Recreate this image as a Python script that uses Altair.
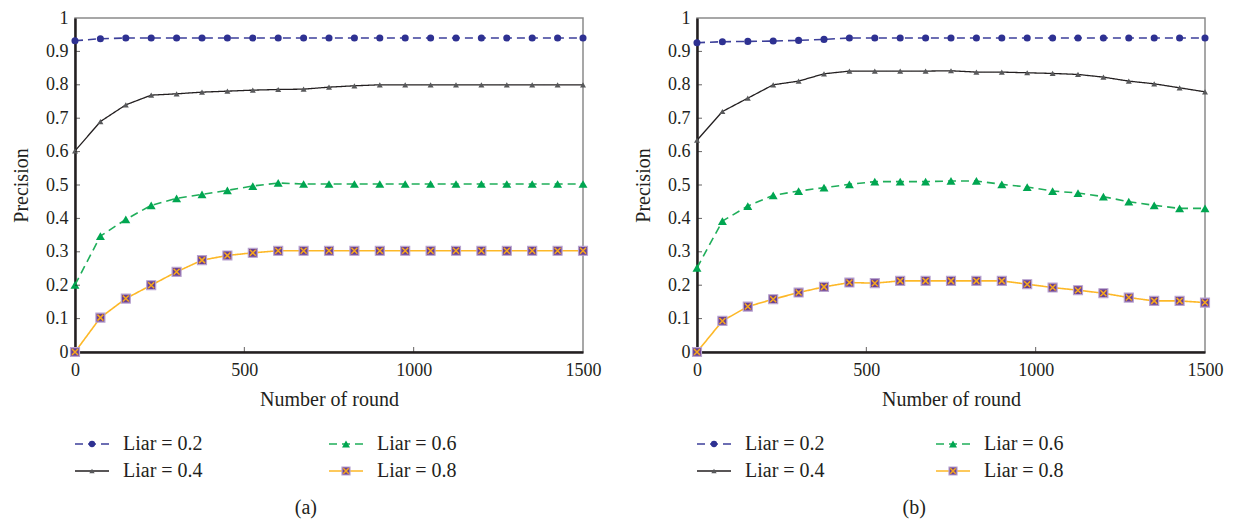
import altair as alt
import pandas as pd

FONT = "Liberation Serif"
INK = "#231f20"

rounds = [0, 75, 150, 225, 300, 375, 450, 525, 600, 675, 750,
          825, 900, 975, 1050, 1125, 1200, 1275, 1350, 1425, 1500]

series_names = ["Liar = 0.2", "Liar = 0.4", "Liar = 0.6", "Liar = 0.8"]

# Panel (a)
a_02 = [0.932, 0.938, 0.940, 0.940, 0.940, 0.940, 0.940, 0.940, 0.940, 0.940, 0.940,
        0.940, 0.940, 0.940, 0.940, 0.940, 0.940, 0.940, 0.940, 0.940, 0.940]
a_04 = [0.602, 0.690, 0.740, 0.769, 0.773, 0.778, 0.781, 0.784, 0.786, 0.787, 0.793,
        0.797, 0.800, 0.800, 0.800, 0.800, 0.800, 0.800, 0.800, 0.800, 0.800]
a_06 = [0.201, 0.347, 0.397, 0.439, 0.460, 0.472, 0.484, 0.497, 0.506, 0.503, 0.503,
        0.503, 0.503, 0.503, 0.503, 0.503, 0.503, 0.503, 0.503, 0.503, 0.503]
a_08 = [0.000, 0.103, 0.160, 0.200, 0.240, 0.275, 0.289, 0.297, 0.303, 0.303, 0.303,
        0.303, 0.303, 0.303, 0.303, 0.303, 0.303, 0.303, 0.303, 0.303, 0.303]

# Panel (b)
b_02 = [0.926, 0.929, 0.930, 0.931, 0.933, 0.936, 0.940, 0.940, 0.940, 0.940, 0.940,
        0.940, 0.940, 0.940, 0.940, 0.940, 0.940, 0.940, 0.940, 0.940, 0.940]
b_04 = [0.634, 0.720, 0.760, 0.800, 0.811, 0.833, 0.841, 0.841, 0.841, 0.841, 0.842,
        0.838, 0.838, 0.836, 0.834, 0.831, 0.823, 0.811, 0.803, 0.791, 0.779]
b_06 = [0.252, 0.392, 0.437, 0.469, 0.482, 0.492, 0.502, 0.510, 0.510, 0.510, 0.512,
        0.512, 0.502, 0.494, 0.482, 0.476, 0.465, 0.450, 0.439, 0.430, 0.430]
b_08 = [0.000, 0.093, 0.136, 0.158, 0.178, 0.195, 0.208, 0.206, 0.213, 0.213, 0.213,
        0.213, 0.213, 0.203, 0.193, 0.185, 0.176, 0.163, 0.153, 0.153, 0.148]

y_ticks = [0, 0.1, 0.2, 0.3, 0.4, 0.5, 0.6, 0.7, 0.8, 0.9, 1]
x_ticks = [0, 500, 1000, 1500]
y_inner_ticks = [0.1, 0.2, 0.3, 0.4, 0.5, 0.6, 0.7, 0.8, 0.9]
x_inner_ticks = [500, 1000]

legend_col = [0, 0, 1, 1]
legend_row = [1, 2, 1, 2]

# styles per series
STY = {
    "Liar = 0.2": dict(line="#3c3f9a", lw=1.6, dash=[8, 5], shape="circle", fill="#2e3192",
                       stroke="#2e3192", size=50, sw=0),
    "Liar = 0.4": dict(line="#231f20", lw=1.3, dash=[1, 0], shape="triangle-up", fill="#58595b",
                       stroke="#58595b", size=36, sw=0),
    "Liar = 0.6": dict(line="#1fae5a", lw=1.6, dash=[8, 5], shape="triangle-up", fill="#00a651",
                       stroke="#00a651", size=80, sw=0),
    "Liar = 0.8": dict(line="#fdb827", lw=1.6, dash=[1, 0], shape="square", fill="#6b3f92",
                       stroke="#b9a3cf", size=80, sw=1.2),
}
CROSS = "M-1,-1L1,1M1,-1L-1,1"

XS = alt.X("round:Q", scale=alt.Scale(domain=[0, 1500], nice=False),
           axis=alt.Axis(values=x_ticks, format="d", title="Number of round",
                         tickSize=0, labelPadding=9, titlePadding=10, labelFlush=False,
                         domainWidth=2.5, domainColor=INK, grid=False))
YS = alt.Y("precision:Q", scale=alt.Scale(domain=[0, 1], nice=False),
           axis=alt.Axis(values=y_ticks, format="~g", title="Precision",
                         tickSize=0, labelPadding=7, titlePadding=14, labelFlush=False,
                         domainWidth=2.5, domainColor=INK, grid=False))


def plot_panel(vals):
    layers = []
    for name, v in zip(series_names, vals):
        s = STY[name]
        df = pd.DataFrame({"round": rounds, "precision": v})
        base = alt.Chart(df).encode(x=XS, y=YS)
        layers.append(base.mark_line(color=s["line"], strokeWidth=s["lw"], strokeDash=s["dash"]))
    for name, v in zip(series_names, vals):
        s = STY[name]
        df = pd.DataFrame({"round": rounds, "precision": v})
        base = alt.Chart(df).encode(x=XS, y=YS)
        layers.append(base.mark_point(shape=s["shape"], filled=True, size=s["size"],
                                      fill=s["fill"], stroke=s["stroke"],
                                      strokeWidth=s["sw"], opacity=1))
        if name == "Liar = 0.8":
            layers.append(base.mark_point(shape=CROSS, filled=False, size=36,
                                          stroke="#f7a81b", strokeWidth=1.5, opacity=1))
    yt = alt.Chart(pd.DataFrame({"precision": y_inner_ticks, "round": [0] * len(y_inner_ticks)})
                   ).mark_tick(orient="horizontal", size=5, thickness=1, color=INK, xOffset=2.5
                               ).encode(x=XS, y=YS)
    xt = alt.Chart(pd.DataFrame({"round": x_inner_ticks, "precision": [0] * len(x_inner_ticks)})
                   ).mark_tick(orient="vertical", size=5, thickness=1, color=INK, yOffset=-2.5
                               ).encode(x=XS, y=YS)
    layers += [yt, xt]
    return alt.layer(*layers).properties(width=508, height=334)


def legend_panel(col2_px, caption):
    xmax = 508 / col2_px * 1.0
    xs = alt.X("col:Q", scale=alt.Scale(domain=[0, xmax], nice=False), axis=None)
    ys = alt.Y("row:Q", scale=alt.Scale(domain=[0.333, 3.852], nice=False, reverse=True), axis=None)
    layers = []
    for name, c, r in zip(series_names, legend_col, legend_row):
        s = STY[name]
        df = pd.DataFrame({"col": [c], "row": [r], "label": [name]})
        base = alt.Chart(df).encode(x=xs, y=ys)
        layers.append(base.mark_rule(color=s["line"], strokeWidth=s["lw"], strokeDash=s["dash"],
                                     x2Offset=34).encode(x2="col:Q"))
        layers.append(base.mark_point(shape=s["shape"], filled=True, size=s["size"] * 0.8,
                                      fill=s["fill"], stroke=s["stroke"], strokeWidth=s["sw"],
                                      opacity=1, xOffset=17))
        if name == "Liar = 0.8":
            layers.append(base.mark_point(shape=CROSS, filled=False, size=30, stroke="#f7a81b",
                                          strokeWidth=1.5, opacity=1, xOffset=17))
        layers.append(base.mark_text(align="left", baseline="middle", dx=48, font=FONT,
                                     fontSize=20, color=INK).encode(text="label:N"))
    cap = pd.DataFrame({"col": [0.909], "row": [3.38], "label": [caption]})
    layers.append(alt.Chart(cap).mark_text(align="center", baseline="middle", font=FONT,
                                           fontSize=20, color=INK)
                  .encode(x=xs, y=ys, text="label:N"))
    return alt.layer(*layers).properties(width=508, height=95,
                                         view=alt.ViewBackground(strokeWidth=0))


chart = alt.concat(
    plot_panel([a_02, a_04, a_06, a_08]),
    plot_panel([b_02, b_04, b_06, b_08]),
    legend_panel(254, "(a)"),
    legend_panel(239, "(b)"),
    columns=2, spacing={"row": 74, "column": 114}, bounds="flush",
).resolve_scale(x="independent", y="independent").properties(
    padding={"left": 2, "top": 0, "right": 2, "bottom": 2}, background="white"
).configure_view(stroke="#8a8a8a", strokeWidth=1.5).configure_axis(
    labelFont=FONT, titleFont=FONT, labelFontSize=18, titleFontSize=20,
    labelColor=INK, titleColor=INK, titleFontWeight="normal"
)

chart.save("out.html", embed_options={"renderer": "svg", "actions": False})
